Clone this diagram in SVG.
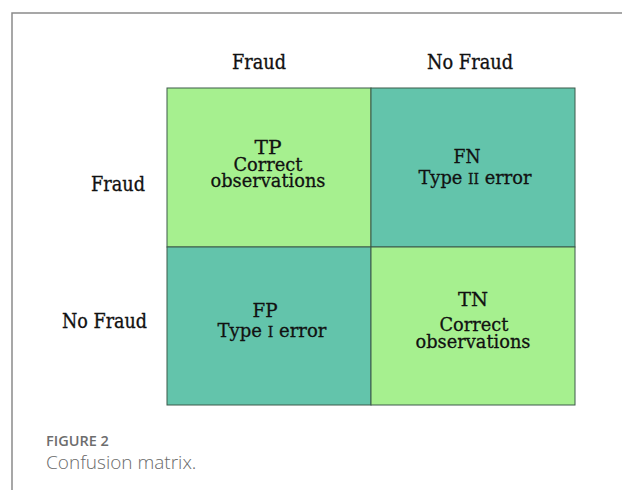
<svg xmlns="http://www.w3.org/2000/svg" width="622" height="490" viewBox="0 0 622 490">
  <style>
    .lbl { font-family: "DejaVu Serif", "Liberation Serif", serif; fill: #111; stroke: #111; stroke-width: 0.35; font-size: 20px; }
    .cell-text { font-family: "DejaVu Serif", "Liberation Serif", serif; fill: #111; stroke: #111; stroke-width: 0.3; font-size: 19px; text-anchor: middle; }
    .light { fill: #a6f08f; stroke: #3d5a4a; stroke-width: 1; }
    .dark { fill: #63c4ab; stroke: #3d5a4a; stroke-width: 1; }
    .cap-head { font-family: "Open Sans", "Liberation Sans", sans-serif; font-weight: 600; font-size: 14.5px; fill: #6d6d6d; }
    .cap { font-family: "Open Sans", "Liberation Sans", sans-serif; font-weight: 300; font-size: 19px; fill: #6a6a6a; }
  </style>
  <rect width="622" height="490" fill="#ffffff"/>
  <!-- figure frame: top and left rule -->
  <path d="M12 490 V13 H622" fill="none" stroke="#8a8a8a" stroke-width="1.5"/>

  <!-- column headers -->
  <g id="col-headers">
    <text class="lbl" x="259" y="69" text-anchor="middle" textLength="54" lengthAdjust="spacingAndGlyphs">Fraud</text>
    <text class="lbl" x="470" y="69" text-anchor="middle" textLength="86" lengthAdjust="spacingAndGlyphs">No Fraud</text>
  </g>
  <!-- row headers -->
  <g id="row-headers">
    <text class="lbl" x="145" y="191" text-anchor="end" textLength="54" lengthAdjust="spacingAndGlyphs">Fraud</text>
    <text class="lbl" x="147" y="328" text-anchor="end" textLength="85" lengthAdjust="spacingAndGlyphs">No Fraud</text>
  </g>

  <g id="tp">
    <rect class="light" x="167" y="88" width="204" height="159"/>
    <text class="cell-text" x="268" y="154" textLength="27" lengthAdjust="spacingAndGlyphs">TP</text>
    <text class="cell-text" x="268" y="171" textLength="69" lengthAdjust="spacingAndGlyphs">Correct</text>
    <text class="cell-text" x="268" y="187" textLength="115" lengthAdjust="spacingAndGlyphs">observations</text>
  </g>
  <g id="fn">
    <rect class="dark" x="371" y="88" width="204" height="159"/>
    <text class="cell-text" x="467" y="163" textLength="27" lengthAdjust="spacingAndGlyphs">FN</text>
    <text class="cell-text" x="475" y="184" textLength="113" lengthAdjust="spacingAndGlyphs">Type <tspan font-size="15">II</tspan> error</text>
  </g>
  <g id="fp">
    <rect class="dark" x="167" y="247" width="204" height="158"/>
    <text class="cell-text" x="265" y="317" textLength="25" lengthAdjust="spacingAndGlyphs">FP</text>
    <text class="cell-text" x="272" y="337" textLength="109" lengthAdjust="spacingAndGlyphs">Type <tspan font-size="15">I</tspan> error</text>
  </g>
  <g id="tn">
    <rect class="light" x="371" y="247" width="204" height="158"/>
    <text class="cell-text" x="473" y="306" textLength="30" lengthAdjust="spacingAndGlyphs">TN</text>
    <text class="cell-text" x="474" y="331" textLength="69" lengthAdjust="spacingAndGlyphs">Correct</text>
    <text class="cell-text" x="473" y="348" textLength="115" lengthAdjust="spacingAndGlyphs">observations</text>
  </g>

  <g id="connectors"></g>

  <g id="caption">
    <text class="cap-head" x="46" y="446">FIGURE 2</text>
    <text class="cap" x="46" y="469">Confusion matrix.</text>
  </g>
</svg>
